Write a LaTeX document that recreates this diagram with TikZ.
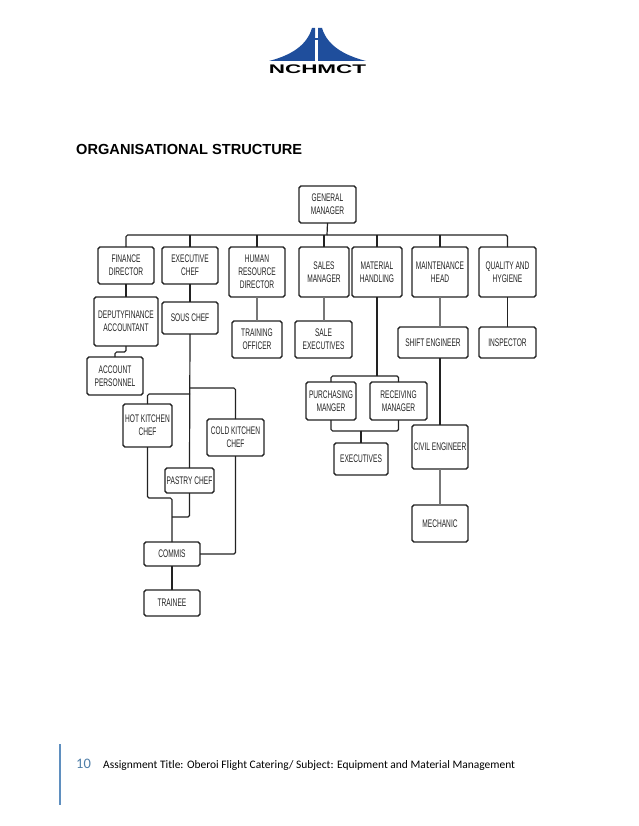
\documentclass[tikz,border=0pt]{standalone}
\usepackage{fontspec}
\setmainfont{Liberation Sans}
\newfontfamily\boxfont[FakeStretch=0.6]{Liberation Sans}
\newfontfamily\logofont[FakeStretch=1.8]{Liberation Sans}
\newfontfamily\footfont{Carlito}
\definecolor{inkc}{HTML}{222222}
\definecolor{softc}{HTML}{777777}
\definecolor{logoc}{HTML}{1F4E9C}
\definecolor{barc}{HTML}{5F8FBF}
\definecolor{numc}{HTML}{4F7EA8}
\tikzset{
  orgbox/.style={draw=inkc,line width=1.4pt,rounded corners=1.8pt,inner sep=0pt,outer sep=0pt,align=center,text=inkc,font=\boxfont\fontsize{11}{13}\selectfont},
  link/.style={draw=inkc,line width=1.2pt,rounded corners=1.6pt},
  softlink/.style={draw=softc,line width=1.2pt},
}
\newcommand\bx[6]{\node[orgbox,minimum width={(#4-#2)*1pt},minimum height={(#5-#3)*1pt}] (#1) at ({(#2+#4)/2},{(#3+#5)/2}) {#6};}
\begin{document}
\begin{tikzpicture}[x=1pt,y=-1pt]
\useasboundingbox (0,0) rectangle (638,826);
% logo
\fill[logoc] (269,61) .. controls (292,55) and (307,45) .. (312,28) -- (315,28) -- (315,61) -- cycle;
\fill[logoc] (366,61) .. controls (343,55) and (327,45) .. (322,28) -- (318,28) -- (318,61) -- cycle;
\fill[white] (315,38) rectangle (318,61);
\fill[logoc] (315,38) rectangle (318,40);
\node[font=\logofont\bfseries\fontsize{12.5}{13}\selectfont,text=black,inner sep=0pt] (logotext) at (317.5,69) {NCHMCT};
% title
\node[anchor=base west,inner sep=0pt,font=\bfseries\fontsize{14.6}{16}\selectfont,text=black] (title) at (76,155) {ORGANISATIONAL STRUCTURE};
% boxes
\bx{gm}{299}{186}{356}{223}{GENERAL\\MANAGER}
\bx{fin}{98}{247}{154}{284}{FINANCE\\DIRECTOR}
\bx{exc}{162}{247}{218}{284}{EXECUTIVE\\CHEF}
\bx{hr}{229}{247}{285}{297}{HUMAN\\RESOURCE\\DIRECTOR}
\bx{sal}{299}{247}{349}{297}{SALES\\MANAGER}
\bx{mat}{352}{247}{402}{297}{MATERIAL\\HANDLING}
\bx{mnt}{412}{247}{468}{297}{MAINTENANCE\\HEAD}
\bx{qua}{479}{247}{536}{297}{QUALITY AND\\HYGIENE}
\bx{dep}{94}{297}{158}{346}{DEPUTYFINANCE\\ACCOUNTANT}
\bx{sou}{162}{302}{218}{334}{SOUS CHEF}
\bx{tra}{232}{321}{282}{358}{TRAINING\\OFFICER}
\bx{sex}{295}{321}{352}{358}{SALE\\EXECUTIVES}
\bx{shi}{398}{327}{468}{358}{SHIFT ENGINEER}
\bx{ins}{479}{327}{536}{358}{INSPECTOR}
\bx{acc}{87}{357}{143}{395}{ACCOUNT\\PERSONNEL}
\bx{pur}{306}{382}{356}{420}{PURCHASING\\MANGER}
\bx{rec}{370}{382}{427}{420}{RECEIVING\\MANAGER}
\bx{hot}{123}{404}{172}{447}{HOT KITCHEN\\CHEF}
\bx{cold}{207}{419}{264}{456}{COLD KITCHEN\\CHEF}
\bx{civ}{412}{425}{468}{469}{CIVIL ENGINEER}
\bx{exs}{334}{443}{388}{475}{EXECUTIVES}
\bx{pas}{165}{468}{214}{493}{PASTRY CHEF}
\bx{mec}{412}{505}{468}{542}{MECHANIC}
\bx{com}{144}{542}{200}{566}{COMMIS}
\bx{trn}{144}{590}{200}{616}{TRAINEE}
% junction coordinates
\coordinate (busy) at (327,235);
\coordinate (matj) at (377,376);
\coordinate (purj) at (361,431);
\coordinate (hotj) at (190,394);
\coordinate (coldj) at (190,388);
\coordinate (hotbend) at (172,498);
\coordinate (pasm) at (172,517);
\coordinate (accj) at (126,352);
% top bus
\draw[link] (fin.north) |- (busy);
\draw[link] (qua.north) |- (busy);
\draw[link] (gm.south) -- (busy);
\draw[link] (exc.north) -- (exc.north |- busy);
\draw[link] (hr.north) -- (hr.north |- busy);
\draw[link] (sal.north) -- (sal.north |- busy);
\draw[link] (mat.north) -- (mat.north |- busy);
\draw[link] (mnt.north) -- (mnt.north |- busy);
% verticals
\draw[link] (fin.south) -- (dep.north);
\draw[link] (dep.south) |- (accj) -| (acc.north);
\draw[link] (exc.south) -- (sou.north);
\draw[softlink] (hr.south) -- (tra.north);
\draw[softlink] (sal.south) -- (sal.south |- sex.north);
\draw[softlink] (mnt.south) -- (mnt.south |- shi.north);
\draw[link] (qua.south) -- (ins.north);
\draw[link] (shi.south -| civ.north) -- (civ.north);
\draw[softlink] (civ.south) -- (mec.north);
% material branch
\draw[link] (mat.south) -- (matj);
\draw[link] (pur.north) |- (matj);
\draw[link] (rec.north) |- (matj);
\draw[link] (pur.south) |- (purj);
\draw[link] (rec.south) |- (purj);
\draw[link] (purj) -- (exs.north);
% kitchen
\draw[link] (sou.south) -- (pas.north);
\draw[link] (hotj) -| (hot.north);
\draw[link] (coldj) -| (cold.north);
\draw[link] (hot.south) |- (hotbend) -- (com.north);
\draw[link] (pas.south) |- (pasm);
\draw[link] (cold.south) |- (com.east);
\draw[link] (com.south) -- (trn.north);
% footer
\draw[barc,line width=1.2pt] (60,744) -- (60,805);
\node[anchor=base west,inner sep=0pt,text=numc,font=\footfont\fontsize{14.5}{16}\selectfont] (pageno) at (76,768.5) {10};
\node[anchor=base west,inner sep=0pt,text=black,font=\footfont\fontsize{11.47}{14}\selectfont] (foot) at (103,768) {Assignment Title: Oberoi Flight Catering/ Subject: Equipment and Material Management};
\end{tikzpicture}
\end{document}
